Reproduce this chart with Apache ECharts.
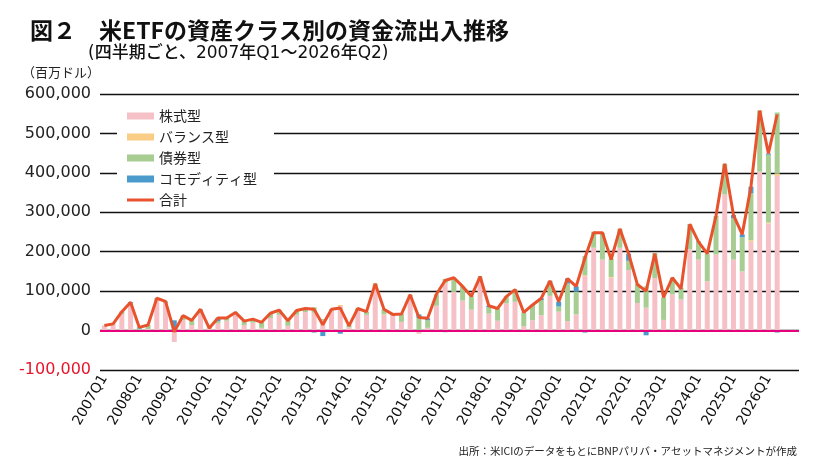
<!DOCTYPE html>
<html>
<head>
<meta charset="utf-8">
<script src="https://cdn.jsdelivr.net/npm/echarts@6/dist/echarts.min.js"></script>
<style>
  html, body { margin: 0; padding: 0; background: #fff; }
  #chart { width: 824px; height: 469px; }
</style>
</head>
<body>
<div id="chart"></div>
<script>
/* 米ETFの資産クラス別資金流出入（四半期、百万ドル） */

var QUARTERS = [];
for (var y = 2007; y <= 2026; y++) {
  for (var q = 1; q <= 4; q++) {
    if (y === 2026 && q > 2) break;
    QUARTERS.push(y + 'Q' + q);
  }
}

var EQUITY = [
  12000, 16000, 42000, 66000, 2000, 4000, 78000, 70000, -29000, 26000,
  14000, 43000, 6000, 18000, 25000, 43000, 14000, 20000, 7000, 32000,
  40000, 12000, 40000, 47000, 45000, 26000, 50000, 62000, 8000, 50000,
  40000, 110000, 40000, 38000, 22000, 88000, -8000, 7000, 63000, 120000,
  98000, 76000, 53000, 134000, 43000, 25000, 69000, 73000, 11000, 26000,
  39000, 88000, 48000, 24000, 41000, 138000, 210000, 180000, 134000, 210000,
  153000, 70000, 58000, 133000, 27000, 92000, 79000, 206000, 180000, 125000,
  193000, 345000, 180000, 150000, 225000, 403000, 272000, 392000
];
var BALANCED = [
  0, 0, 0, 0, 0, 0, 0, 0, 0, 0,
  0, 0, 0, 0, 0, 0, 0, 0, 0, 0,
  0, 0, 0, 0, 0, 0, 0, 3000, 0, 0,
  0, 0, 1000, 0, 0, 0, 0, 0, 0, 0,
  0, 0, 0, 0, 0, 0, 0, 0, 0, 0,
  0, 0, 0, 0, 0, 2000, 0, 0, 2000, 0,
  0, 0, 0, 0, 0, 0, 0, 0, 0, 0,
  0, 0, 0, 0, 4000, 0, 2000, 6000
];
var BOND = [
  1000, 1000, 5000, 4000, 3000, 10000, 3000, 3000, 0, 12000,
  12000, 11000, 2000, 6000, 7000, 3000, 10000, 9000, 14000, 12000,
  12000, 13000, 11000, 9000, 14000, 3000, 4000, 0, 6000, 6000,
  8000, 9000, 13000, 5000, 20000, 3000, 32000, 19000, 29000, 11000,
  36000, 36000, 34000, 3000, 16000, 31000, 18000, 31000, 35000, 38000,
  38000, 36000, 13000, 95000, 58000, 49000, 41000, 68000, 47000, 48000,
  24000, 49000, 54000, 64000, 57000, 42000, 29000, 64000, 47000, 70000,
  98000, 78000, 105000, 87000, 119000, 155000, 172000, 155000
];
var COMMODITY = [
  0, 0, 1000, 2000, 3000, 0, 1000, 1000, 26000, 0,
  0, 0, -2000, 8000, 0, 0, 0, 0, 0, 0,
  0, 0, 0, 0, -5000, -14000, 0, -8000, -2000, 0,
  0, 0, 0, -2000, 0, 0, 9000, 5000, 0, -4000,
  0, 0, 0, 0, 4000, 0, -1000, 0, 0, 1000,
  5000, 2000, 12000, 13000, 13000, -5000, -3000, 0, -3000, 0,
  18000, -2000, -12000, -2000, 0, 0, -2000, 0, -2000, 0,
  0, 0, 8000, 7000, 17000, 0, 3000, -5000
];
var TOTAL = [
  13000, 17000, 48000, 72000, 8000, 14000, 82000, 74000, -3000, 38000,
  26000, 54000, 6000, 32000, 32000, 46000, 24000, 29000, 21000, 44000,
  52000, 25000, 51000, 56000, 54000, 15000, 54000, 57000, 12000, 56000,
  48000, 119000, 54000, 41000, 42000, 91000, 33000, 31000, 92000, 127000,
  134000, 112000, 87000, 137000, 63000, 56000, 86000, 104000, 46000, 65000,
  82000, 126000, 73000, 132000, 112000, 184000, 248000, 248000, 180000, 258000,
  195000, 117000, 100000, 195000, 84000, 134000, 106000, 270000, 225000, 195000,
  291000, 423000, 293000, 244000, 365000, 558000, 449000, 548000
];

var NAMES = ['株式型', 'バランス型', '債券型', 'コモディティ型', '合計'];
var COLORS = ['#f6c1c6', '#f9cd85', '#a8cd93', '#4a9bcb', '#e8522d'];

var JP = '"Noto Sans CJK JP", sans-serif';
var NUM = '"DejaVu Sans", "Noto Sans CJK JP", sans-serif';

function barSeries(i, data) {
  return {
    name: NAMES[i],
    type: 'bar',
    stack: 'flow',
    barWidth: 5,
    data: data,
    itemStyle: { color: COLORS[i] }
  };
}

var option = {
  animation: false,
  backgroundColor: '#fff',
  color: COLORS,
  grid: { left: 100, right: 25, top: 94, bottom: 99 },
  legend: {
    orient: 'vertical',
    left: 117,
    top: 105,
    itemWidth: 27,
    itemHeight: 7,
    itemGap: 7,
    backgroundColor: '#fff',
    padding: [4, 17, 4, 10],
    textStyle: { fontFamily: JP, fontSize: 14, color: '#222' },
    data: [
      { name: NAMES[0], icon: 'rect' },
      { name: NAMES[1], icon: 'rect' },
      { name: NAMES[2], icon: 'rect' },
      { name: NAMES[3], icon: 'rect' },
      { name: NAMES[4], icon: 'path://M0,0L27,0L27,3L0,3Z' }
    ]
  },
  graphic: [
    {
      type: 'text', left: 30, top: 19,
      style: { text: '図２　米ETFの資産クラス別の資金流出入推移', fontFamily: JP, fontSize: 23, fontWeight: 'bold', fill: '#111' }
    },
    {
      type: 'text', left: 88, top: 45,
      style: { text: '(四半期ごと、2007年Q1～2026年Q2)', fontFamily: NUM, fontSize: 17, fontWeight: 500, fill: '#111' }
    },
    {
      type: 'text', left: 22, top: 66,
      style: { text: '（百万ドル）', fontFamily: JP, fontSize: 13, fill: '#222' }
    },
    {
      type: 'text', right: 27, top: 446,
      style: { text: '出所：米ICIのデータをもとにBNPパリバ・アセットマネジメントが作成', fontFamily: JP, fontSize: 10.5, fill: '#222' }
    }
  ],
  xAxis: {
    type: 'category',
    data: QUARTERS,
    max: QUARTERS.length + 1,
    axisLine: { show: false },
    axisTick: { show: false },
    splitLine: { show: false },
    axisLabel: {
      interval: 3,
      rotate: 60,
      margin: 6,
      fontFamily: NUM,
      fontSize: 14,
      color: '#111',
      formatter: function (v) { return v || ''; }
    }
  },
  yAxis: {
    type: 'value',
    min: -100000,
    max: 600000,
    interval: 100000,
    axisLine: { show: false },
    axisTick: { show: false },
    splitLine: { lineStyle: { color: '#111', width: 1.4 } },
    axisLabel: {
      margin: 9,
      fontFamily: NUM,
      fontSize: 16,
      color: function (v) { return Number(v) < 0 ? '#e8162c' : '#222'; },
      formatter: function (v) { return v.toLocaleString('en-US'); }
    }
  },
  series: [
    barSeries(0, EQUITY),
    barSeries(1, BALANCED),
    barSeries(2, BOND),
    barSeries(3, COMMODITY),
    {
      name: NAMES[4],
      type: 'line',
      data: TOTAL,
      symbol: 'none',
      z: 5,
      lineStyle: { color: COLORS[4], width: 3 },
      itemStyle: { color: COLORS[4] },
      markLine: {
        silent: true,
        symbol: 'none',
        label: { show: false },
        lineStyle: { color: '#e6007e', width: 2, type: 'solid' },
        data: [{ yAxis: 0 }]
      }
    }
  ]
};

var chart = echarts.init(document.getElementById('chart'));
chart.setOption(option);
</script>
</body>
</html>
